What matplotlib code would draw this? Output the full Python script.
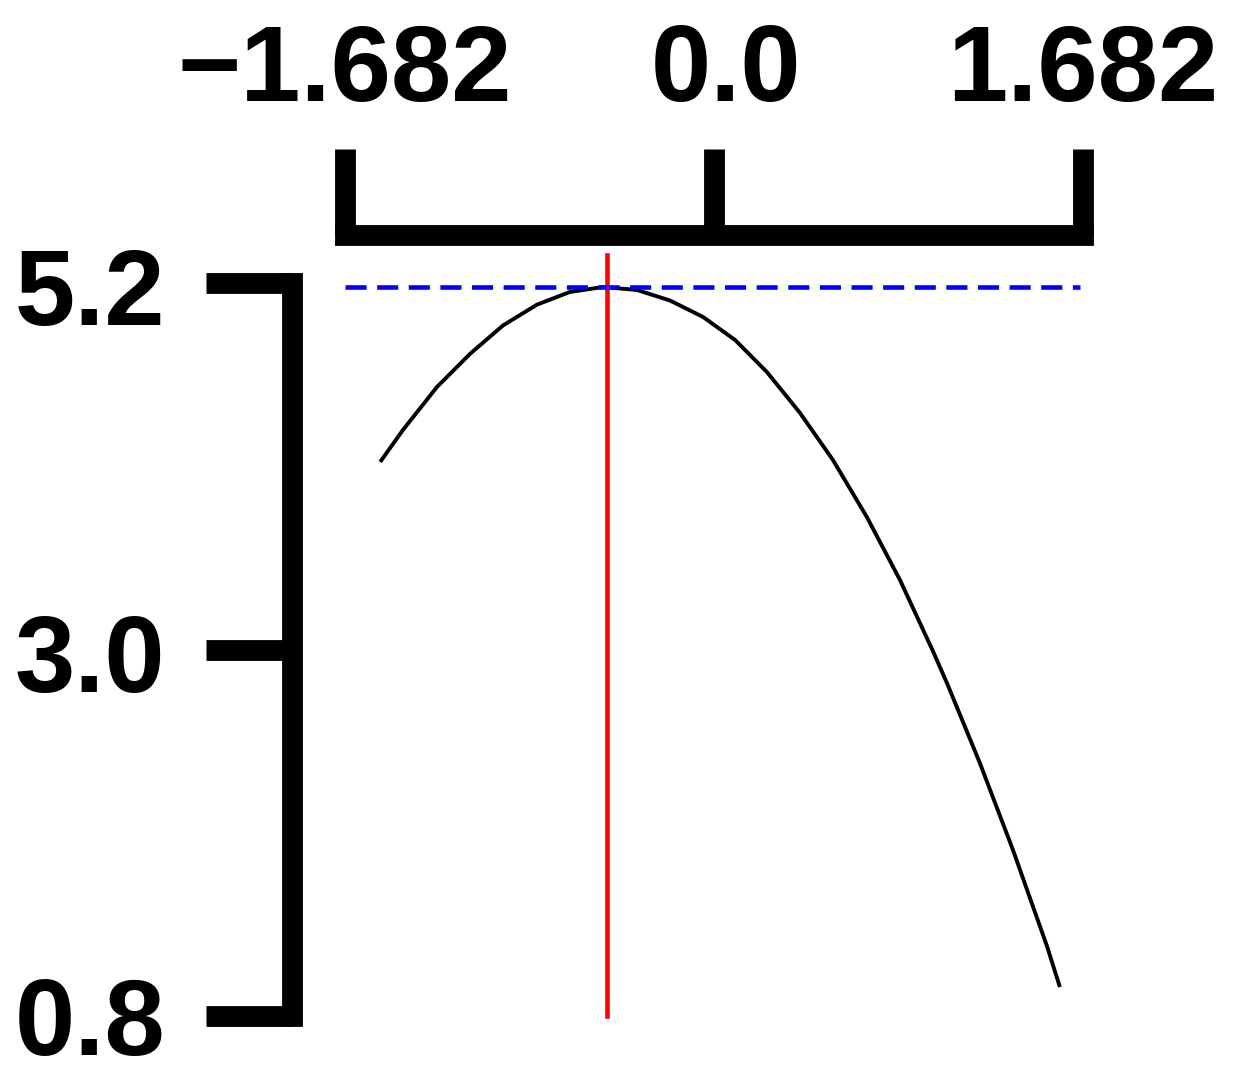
import matplotlib
matplotlib.use("Agg")
import matplotlib.pyplot as plt
from matplotlib.transforms import ScaledTranslation

# data
x_curve = [-1.522, -1.418, -1.263, -1.112, -0.962, -0.807, -0.657, -0.506,
           -0.351, -0.201, -0.050, 0.096, 0.241, 0.392, 0.542, 0.697,
           0.848, 0.998, 1.062, 1.212, 1.363, 1.518, 1.577]
y_curve = [4.126, 4.318, 4.576, 4.775, 4.945, 5.070, 5.146, 5.176,
           5.158, 5.095, 4.996, 4.858, 4.666, 4.420, 4.138, 3.795,
           3.417, 2.991, 2.799, 2.319, 1.797, 1.220, 0.974]
x_ticks = [-1.682, 0.0, 1.682]
x_ticklabels = ["\u22121.682", "0.0", "1.682"]
y_ticks = [0.8, 3.0, 5.2]
y_ticklabels = ["0.8", "3.0", "5.2"]
x_opt = -0.488
y_opt = 5.176
red_top = 5.37
blue_end = 1.67

W, H = 1236, 1080
fig = plt.figure(figsize=(W / 100, H / 100), dpi=100)

xlim = (-1.924, 1.924)
ylim = (0.50, 5.488)
left_px, right_px = 292, 1136
top_px, bottom_px = 235, 1066
ax = fig.add_axes([left_px / W, 1 - bottom_px / H,
                   (right_px - left_px) / W, (bottom_px - top_px) / H])
ax.set_xlim(*xlim)
ax.set_ylim(*ylim)

ax.plot(x_curve, y_curve, color="black", lw=2.8, solid_capstyle="butt",
        solid_joinstyle="round")
ax.plot([x_opt, x_opt], [y_ticks[0], red_top], color="red", lw=3.3)
ax.plot([x_ticks[0], blue_end], [y_opt, y_opt], color="blue", lw=3.3,
        dashes=(4.6, 2.3))

for s in ["right", "bottom"]:
    ax.spines[s].set_visible(False)
ax.spines["top"].set_linewidth(15)
ax.spines["left"].set_linewidth(15)
ax.spines["top"].set_bounds(x_ticks[0], x_ticks[-1])
ax.spines["left"].set_bounds(y_ticks[0], y_ticks[-1])

ax.xaxis.set_ticks_position("top")
ax.set_xticks(x_ticks)
ax.set_xticklabels(x_ticklabels)
ax.set_yticks(y_ticks)
ax.set_yticklabels(y_ticklabels)
ax.tick_params(axis="x", which="major", length=62, width=15, pad=19,
               labelsize=78, direction="out")
ax.tick_params(axis="y", which="major", length=62, width=15, pad=29,
               labelsize=78, direction="out")
for lab in ax.get_xticklabels() + ax.get_yticklabels():
    lab.set_fontfamily(["Liberation Sans", "DejaVu Sans"])
    lab.set_fontweight("bold")

ydown = ScaledTranslation(0, -3 / 100, fig.dpi_scale_trans)
for lab in ax.get_yticklabels()[1:]:
    lab.set_transform(lab.get_transform() + ydown)
xl = ax.get_xticklabels()
xl[1].set_transform(xl[1].get_transform() +
                    ScaledTranslation(12 / 100, 0, fig.dpi_scale_trans))

fig.savefig("out.png", dpi=100)
